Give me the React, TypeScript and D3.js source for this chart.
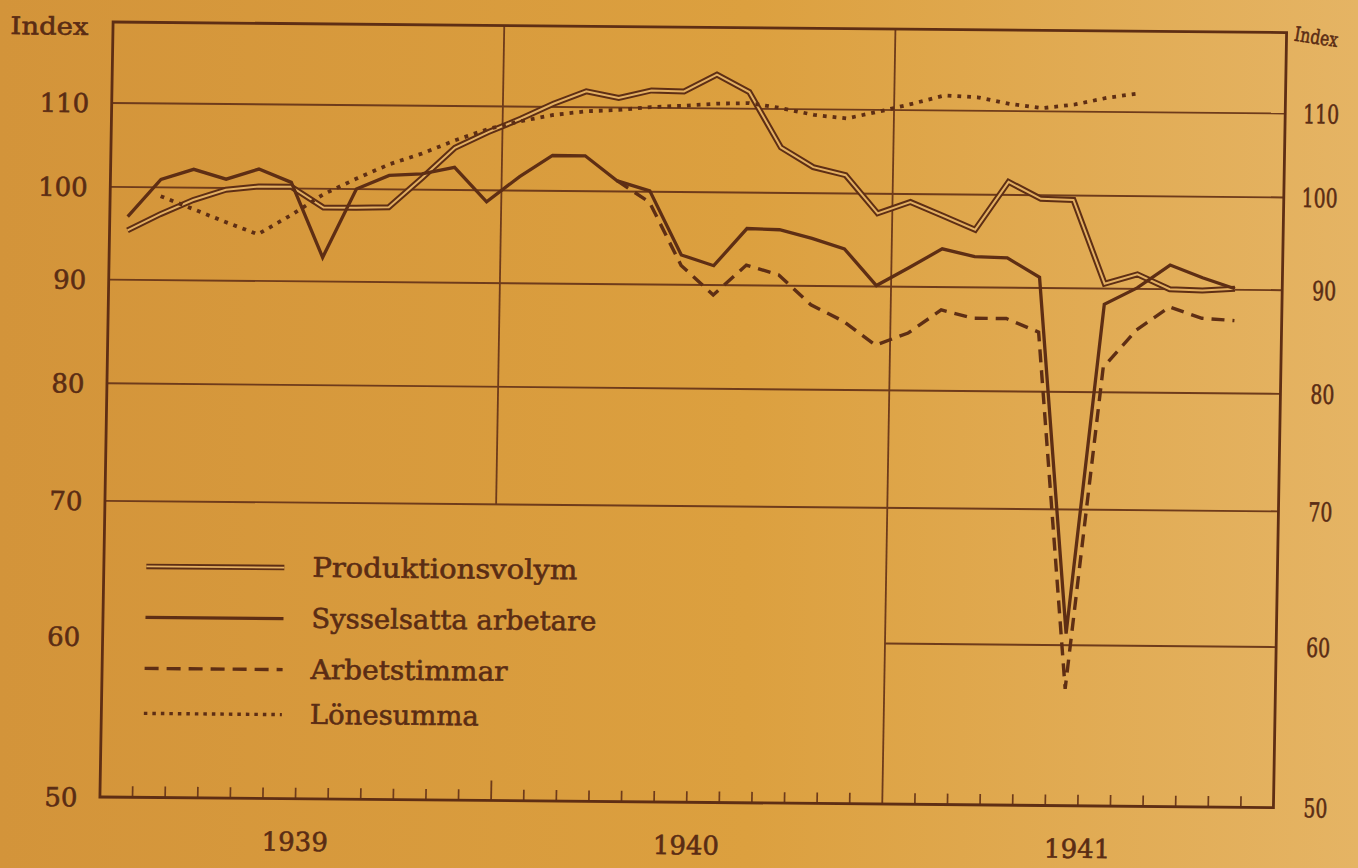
import React from "react";
import * as d3 from "d3";

// Monthly index values, Jan 1939 (index 0) .. Dec 1941 (index 35); null = no value
const MONTHS: number[] = d3.range(36);
const YEARS: string[] = ["1939", "1940", "1941"];
const Y_TICKS: number[] = [50, 60, 70, 80, 90, 100, 110];
const FULL_GRID: number[] = [70, 80, 90, 100, 110];
const RIGHT_GRID: number[] = [60];

const produktionsvolym: (number | null)[] = [
  95.2, 97.0, 98.6, 99.8, 100.2, 100.2, 97.9, 97.9, 98.0, 101.3, 104.9, 106.8,
  108.5, 110.4, 112.0, 111.2, 112.2, 112.1, 114.3, 112.1, 105.3, 103.0, 102.1, 97.8,
  99.1, 97.6, 96.1, 101.5, 99.6, 99.5, 90.5, 91.5, 90.0, 89.9, 90.1, null,
];

const sysselsatta: (number | null)[] = [
  96.7, 100.9, 102.1, 101.0, 102.2, 100.7, 92.5, 100.0, 101.6, 101.8, 102.6, 98.7,
  101.6, 104.1, 104.1, 101.2, 100.1, 93.1, 92.0, 96.0, 95.9, 95.0, 93.9, 90.1,
  92.0, 94.0, 93.2, 93.1, 91.1, 60.8, 88.4, 90.1, 92.5, 91.2, 90.1, null,
];

const arbetstimmar: (number | null)[] = [
  null, null, null, null, null, null, null, null, null, null, null, null,
  null, null, null, 101.2, 98.8, 92.0, 89.0, 92.1, 91.1, 88.1, 86.5, 84.2,
  85.4, 87.7, 86.9, 86.9, 85.6, 57.1, 82.3, 85.9, 88.2, 87.1, 86.9, null,
];

const lonesumma: (number | null)[] = [
  null, 99.0, 97.6, 96.2, 94.9, 97.0, 99.4, 101.2, 102.9, 104.2, 105.8, 107.2,
  108.2, 109.0, 109.5, 109.7, 110.1, 110.3, 110.6, 110.7, 110.1, 109.3, 108.9, 109.8,
  110.8, 111.9, 111.7, 110.9, 110.4, 110.9, 111.8, 112.4, null, null, null, null,
];

const LEGEND: string[] = ["Produktionsvolym", "Sysselsatta arbetare", "Arbetstimmar", "Lönesumma"];

const W = 1358;
const H = 868;
const L = 106.5;
const R = 1280;
const T = 22;
const B = 797;
const SKEW_X = -0.017;
const SKEW_Y = 0.009;
const PX = 106.5;
const PY = 410;

const INK = "#5e2e14";
const GRID = "#6e3b1b";
const TEXT = "#5a2c14";
const LIGHT = "#e3b062";
const FONT = "'DejaVu Serif', 'Liberation Serif', serif";

export default function App() {
  const x = d3.scaleLinear().domain([0, MONTHS.length]).range([L, R]);
  const y = d3.scaleLog().domain([50, 120.6]).range([B, T]);
  const px = (i: number) => x(i + 0.55);

  const line = d3
    .line<number | null>()
    .defined((d) => d != null)
    .x((_d, i) => px(i))
    .y((d) => y(d as number));

  const transform = `matrix(1, ${SKEW_Y}, ${SKEW_X}, 1, ${-SKEW_X * PY}, ${-SKEW_Y * PX})`;

  const legendY = [566, 617, 668, 713];
  const legendLen = [265, 285, 197, 169];

  const textProps = {
    fontFamily: FONT,
    fill: TEXT,
    stroke: TEXT,
    strokeWidth: 0.6,
  };

  const sample = (k: number) => {
    const yy = legendY[k];
    const x1 = 149;
    const x2 = 287;
    if (k === 0)
      return (
        <g key={k}>
          <line x1={x1} x2={x2} y1={yy} y2={yy} stroke={INK} strokeWidth={5.5} />
          <line x1={x1} x2={x2} y1={yy} y2={yy} stroke={LIGHT} strokeWidth={1.8} />
        </g>
      );
    if (k === 1) return <line key={k} x1={x1} x2={x2} y1={yy} y2={yy} stroke={INK} strokeWidth={3.2} />;
    if (k === 2)
      return <line key={k} x1={x1} x2={x2} y1={yy} y2={yy} stroke={INK} strokeWidth={3.4} strokeDasharray="14 8" />;
    return <line key={k} x1={x1} x2={x2} y1={yy} y2={yy} stroke={INK} strokeWidth={3.4} strokeDasharray="3.5 5" />;
  };

  return (
    <svg
      width={W}
      height={H}
      viewBox={`0 0 ${W} ${H}`}
      style={{ position: "fixed", left: 0, top: 0, display: "block" }}
    >
      <defs>
        <linearGradient id="paper" x1="0" x2="1" y1="0" y2="0">
          <stop offset="0%" stopColor="#d3943a" />
          <stop offset="55%" stopColor="#dca03f" />
          <stop offset="100%" stopColor="#e5b464" />
        </linearGradient>
      </defs>
      <rect x={0} y={0} width={W} height={H} fill="url(#paper)" />
      <g transform={transform}>
        {/* horizontal grid lines */}
        {FULL_GRID.map((v) => (
          <line key={`g${v}`} x1={L} x2={R} y1={y(v)} y2={y(v)} stroke={GRID} strokeWidth={1.9} />
        ))}
        {RIGHT_GRID.map((v) => (
          <line key={`r${v}`} x1={x(24)} x2={R} y1={y(v)} y2={y(v)} stroke={GRID} strokeWidth={1.9} />
        ))}
        {/* year boundary lines */}
        <line x1={x(12)} x2={x(12)} y1={T} y2={y(70)} stroke={GRID} strokeWidth={1.8} />
        <line x1={x(12)} x2={x(12)} y1={B - 20} y2={B} stroke={GRID} strokeWidth={1.8} />
        <line x1={x(24)} x2={x(24)} y1={T} y2={B} stroke={GRID} strokeWidth={1.8} />
        {/* month ticks */}
        {d3.range(1, 36)
          .filter((k) => k !== 12 && k !== 24)
          .map((k) => (
            <line key={`t${k}`} x1={x(k)} x2={x(k)} y1={B - 11} y2={B} stroke={GRID} strokeWidth={1.7} />
          ))}
        {/* frame */}
        <rect x={L} y={T} width={R - L} height={B - T} fill="none" stroke={INK} strokeWidth={2.8} />

        {/* left tick labels */}
        {Y_TICKS.map((v) => (
          <text key={`l${v}`} x={84} y={y(v) + 9.5} textAnchor="end" fontSize={26} {...textProps}>
            {v}
          </text>
        ))}
        {/* right tick labels */}
        {Y_TICKS.map((v) => (
          <text
            key={`rr${v}`}
            x={1334 - 12 * String(v).length}
            y={y(v) + 9.5}
            textLength={12 * String(v).length}
            lengthAdjust="spacingAndGlyphs"
            fontSize={26}
            {...textProps}
          >
            {v}
          </text>
        ))}
        <text x={4} y={35} textLength={78} lengthAdjust="spacingAndGlyphs" fontSize={24} {...textProps}>
          Index
        </text>
        <text
          transform="translate(1287,30) rotate(8)"
          textLength={44}
          lengthAdjust="spacingAndGlyphs"
          fontSize={20}
          {...textProps}
        >
          Index
        </text>
        {/* year labels */}
        {YEARS.map((yr, j) => (
          <text key={yr} x={x(j * 12 + 6)} y={849} textAnchor="middle" fontSize={26} {...textProps}>
            {yr}
          </text>
        ))}

        {/* data lines */}
        <path d={line(produktionsvolym) ?? ""} fill="none" stroke={INK} strokeWidth={6} strokeLinejoin="miter" />
        <path d={line(produktionsvolym) ?? ""} fill="none" stroke={LIGHT} strokeWidth={2} strokeLinejoin="miter" />
        <path d={line(sysselsatta) ?? ""} fill="none" stroke={INK} strokeWidth={3.3} strokeLinejoin="miter" />
        <path
          d={line(arbetstimmar) ?? ""}
          fill="none"
          stroke={INK}
          strokeWidth={3.4}
          strokeDasharray="13 8"
          strokeLinejoin="miter"
        />
        <path d={line(lonesumma) ?? ""} fill="none" stroke={INK} strokeWidth={3.8} strokeDasharray="3.8 6" />

        {/* legend */}
        {LEGEND.map((name, k) => (
          <g key={name}>
            {sample(k)}
            <text
              x={315}
              y={legendY[k] + 9}
              textLength={legendLen[k]}
              lengthAdjust="spacingAndGlyphs"
              fontSize={27}
              {...textProps}
            >
              {name}
            </text>
          </g>
        ))}
      </g>
    </svg>
  );
}
